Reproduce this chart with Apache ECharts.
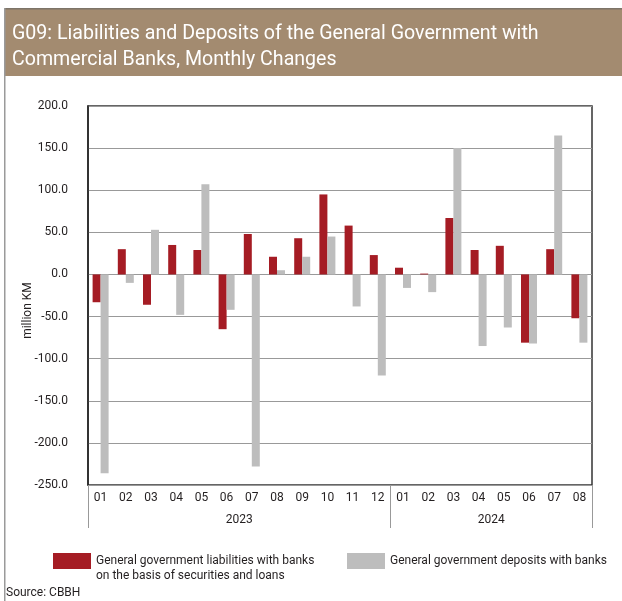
<!DOCTYPE html>
<html>
<head>
<meta charset="utf-8">
<script src="https://cdn.jsdelivr.net/npm/echarts@6/dist/echarts.min.js"></script>
<style>
  html, body { margin: 0; padding: 0; background: #fff; }
  #chart { width: 622px; height: 601px; }
</style>
</head>
<body>
<div id="chart"></div>
<script>
const months = ['01', '02', '03', '04', '05', '06', '07', '08', '09', '10', '11', '12',
  '01', '02', '03', '04', '05', '06', '07', '08']
const years = ['2023', '2024']
const monthsPerYear = [12, 8]
const liabilities = [-33, 30, -36, 35, 29, -65, 48, 21, 43, 95, 58, 23,
  8, 1, 67, 29, 34, -81, 30, -52]
const deposits = [-236, -10, 53, -48, 107, -42, -228, 5, 21, 45, -38, -120,
  -16, -21, 150, -85, -63, -82, 165, -81]
const yTicks = { min: -250, max: 200, step: 50 }
const liabilitiesName = 'General government liabilities with banks\non the basis of securities and loans'
const depositsName = 'General government deposits with banks'

const fontFamily = 'Roboto'
const textColor = '#231f20'

// year boundaries and centres on a 0..n value scale laid over the month axis
const yearBounds = [0]
monthsPerYear.forEach(n => yearBounds.push(yearBounds[yearBounds.length - 1] + n))
const yearCentres = monthsPerYear.map((n, i) => yearBounds[i] + n / 2)

const chart = echarts.init(document.getElementById('chart'))
const option = {
  animation: false,
  textStyle: { fontFamily: fontFamily },
  graphic: [
    { type: 'rect', shape: { x: 4, y: 8, width: 618, height: 68 }, style: { fill: '#a38b70' } },
    { type: 'rect', shape: { x: 4, y: 8, width: 618, height: 1.5 }, style: { fill: '#7d7468' } },
    { type: 'rect', shape: { x: 4, y: 8, width: 1.5, height: 593 }, style: { fill: '#9a9a9a' } },
    {
      type: 'text', left: 12, top: 21,
      style: {
        text: 'G09: Liabilities and Deposits of the General Government with\nCommercial Banks, Monthly Changes',
        fill: '#fff', font: '19.6px Roboto', lineHeight: 26
      }
    },
    {
      type: 'text', left: 6, top: 587,
      style: { text: 'Source: CBBH', fill: textColor, font: '12px Roboto' }
    }
  ],
  grid: {
    left: 88, right: 30, top: 106, bottom: 116,
    show: true, borderColor: '#333', borderWidth: 1.5
  },
  legend: [
    {
      data: [liabilitiesName], left: 53, top: 553, padding: 0,
      // icon box is taller than the drawn rect so the swatch sits beside the first text line
      itemWidth: 38, itemHeight: 31, icon: 'path://M0,0H38V16H0Z M0,31',
      textStyle: { fontSize: 12, color: textColor, lineHeight: 15 }
    },
    {
      data: [depositsName], left: 347, top: 553, padding: 0,
      itemWidth: 38, itemHeight: 16, icon: 'rect',
      textStyle: { fontSize: 12, color: textColor, lineHeight: 15 }
    }
  ],
  xAxis: [
    {
      type: 'category',
      data: months,
      axisLine: { onZero: false, show: false },
      axisTick: { show: false },
      axisLabel: { color: textColor, fontSize: 12, margin: 7, interval: 0 }
    },
    {
      type: 'value',
      min: 0,
      max: yearBounds[yearBounds.length - 1],
      position: 'bottom',
      axisLine: { show: false, onZero: false },
      splitLine: { show: false },
      axisTick: {
        show: true, length: 43, customValues: yearBounds,
        lineStyle: { color: '#999', width: 1 }
      },
      axisLabel: {
        customValues: yearCentres,
        formatter: v => years[yearCentres.indexOf(v)],
        color: textColor, fontSize: 12, margin: 29
      }
    }
  ],
  yAxis: {
    type: 'value',
    min: yTicks.min,
    max: yTicks.max,
    interval: yTicks.step,
    name: 'million KM',
    nameLocation: 'middle',
    nameGap: 54,
    nameMoveOverlap: false,
    nameTextStyle: { color: textColor, fontSize: 12, padding: [0, 30, 0, 0] },
    axisLine: { show: true, lineStyle: { color: '#222', width: 1.5 } },
    axisTick: { show: false },
    axisLabel: { color: textColor, fontSize: 12, margin: 20, formatter: v => v.toFixed(1) },
    splitLine: { lineStyle: { color: '#999', width: 1 } }
  },
  series: [
    {
      name: liabilitiesName,
      type: 'bar',
      data: liabilities,
      barWidth: 8,
      barGap: '0%',
      itemStyle: { color: '#a51c24' }
    },
    {
      name: depositsName,
      type: 'bar',
      data: deposits,
      barWidth: 8,
      barGap: '0%',
      itemStyle: { color: '#bdbdbd' }
    }
  ]
}
chart.setOption(option)
</script>
</body>
</html>
